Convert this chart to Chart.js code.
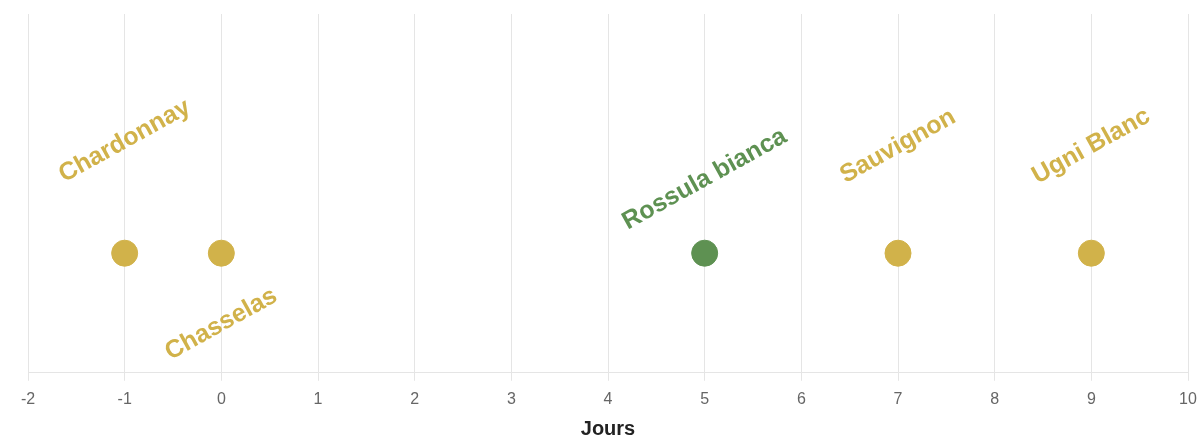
<!DOCTYPE html>
<html>
<head>
<meta charset="utf-8">
<script src="https://cdn.jsdelivr.net/npm/chart.js@4/dist/chart.umd.min.js"></script>
<style>
    html, body { margin: 0; padding: 0; background: #fff; }
    #wrap { width: 1202px; height: 437px; }
</style>
</head>
<body>
<div id="wrap"><canvas id="myChart"></canvas></div>
<script>
// grape varieties and the day each one is placed on
const cepages = ['Chardonnay', 'Chasselas', 'Rossula bianca', 'Sauvignon', 'Ugni Blanc'];
const jours = [-1, 0, 5, 7, 9];
const rows = [0, 0, 0, 0, 0];
const couleurs = ['#d1b24a', '#d1b24a', '#5e9152', '#d1b24a', '#d1b24a'];
const xTicks = [-2, -1, 0, 1, 2, 3, 4, 5, 6, 7, 8, 9, 10];

// vertical shift of each label (px) from its point, negative = above
const labelShift = [-112, 71, -74, -107, -107];

const pointLabels = {
    id: 'pointLabels',
    afterDatasetsDraw(chart) {
        const ctx = chart.ctx;
        const meta = chart.getDatasetMeta(0);
        ctx.save();
        ctx.font = 'bold 25px "Liberation Sans", Arial, sans-serif';
        ctx.textAlign = 'center';
        ctx.textBaseline = 'middle';
        meta.data.forEach((pt, i) => {
            ctx.save();
            ctx.translate(pt.x, pt.y + labelShift[i]);
            ctx.rotate(-29 * Math.PI / 180);
            ctx.fillStyle = couleurs[i];
            ctx.fillText(cepages[i], 0, 0);
            ctx.restore();
        });
        ctx.restore();
    }
};

const ctx = document.getElementById('myChart').getContext('2d');

const myChart = new Chart(ctx, {
    type: 'scatter',
    data: {
        labels: cepages,
        datasets: [{
            data: jours.map((j, i) => ({ x: j, y: rows[i] })),
            backgroundColor: couleurs,
            borderColor: couleurs,
            pointRadius: 13,
            pointHoverRadius: 13
        }]
    },
    options: {
        responsive: true,
        maintainAspectRatio: false,
        animation: false,
        layout: {
            padding: { left: 28, right: 0, top: 12, bottom: 0 }
        },
        scales: {
            x: {
                type: 'linear',
                min: -2,
                max: 10,
                afterBuildTicks: (axis) => {
                    axis.ticks = xTicks.map(v => ({ value: v }));
                },
                afterFit: (axis) => {
                    axis.paddingRight = 14;
                },
                grid: {
                    color: 'rgba(0,0,0,0.1)',
                    tickLength: 8
                },
                ticks: {
                    color: '#666',
                    font: { size: 16 },
                    padding: 9
                },
                title: {
                    display: true,
                    text: 'Jours',
                    color: '#222',
                    font: { size: 20, weight: 'bold' },
                    padding: { top: -1, bottom: -4 }
                }
            },
            y: {
                display: false,
                min: -1,
                max: 2
            }
        },
        plugins: {
            legend: { display: false },
            tooltip: { enabled: false }
        }
    },
    plugins: [pointLabels]
});
</script>
</body>
</html>
